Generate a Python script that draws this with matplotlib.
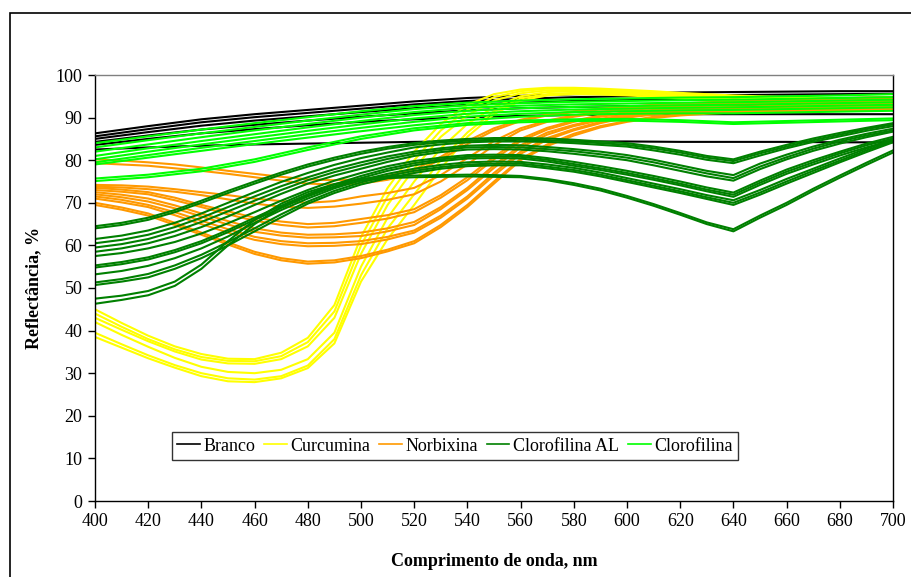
import numpy as np
import matplotlib.pyplot as plt
from matplotlib.patches import Rectangle

plt.rcParams['font.family'] = ['Liberation Serif', 'DejaVu Serif']

# comprimento de onda (nm)
wl20 = [400, 420, 440, 460, 480, 500, 520, 540, 560, 580, 600, 620, 640, 660, 680, 700]
wl10 = list(range(400, 701, 10))

# Branco (passo 20 nm)
branco = [
    [86.3, 88.0, 89.6, 90.8, 91.8, 92.8, 93.8, 94.6, 95.1, 95.5, 95.7, 95.9, 96.0, 96.1, 96.2, 96.2],
    [85.6, 87.3, 88.9, 90.1, 91.1, 92.1, 93.1, 93.9, 94.4, 94.8, 95.0, 95.2, 95.3, 95.4, 95.5, 95.6],
    [85.0, 86.6, 88.1, 89.3, 90.3, 91.3, 92.2, 93.0, 93.5, 93.9, 94.1, 94.3, 94.4, 94.5, 94.6, 94.7],
    [84.3, 85.8, 87.2, 88.3, 89.3, 90.2, 91.0, 91.7, 92.2, 92.5, 92.7, 92.9, 93.0, 93.1, 93.2, 93.3],
    [83.6, 85.0, 86.3, 87.3, 88.2, 89.0, 89.6, 90.1, 90.4, 90.6, 90.7, 90.8, 90.8, 90.8, 90.8, 90.8],
    [82.5, 83.0, 83.4, 83.7, 83.9, 84.1, 84.3, 84.5, 84.5, 84.4, 84.4, 84.3, 84.3, 84.3, 84.2, 84.2],
]

# Curcumina (passo 10 nm)
curcumina = [
    [45.0, 41.8, 38.8, 36.3, 34.5, 33.4, 33.3, 34.8, 38.3, 46.0, 62.0, 73.5, 82.0, 88.5, 93.0, 95.5,
     96.6, 97.0, 97.0, 96.8, 96.5, 96.2, 95.8, 95.5, 95.2, 95.0, 94.8, 94.6, 94.5, 94.3, 94.2],
    [44.0, 40.9, 38.0, 35.6, 33.8, 32.9, 32.8, 34.0, 37.3, 44.5, 60.0, 71.5, 80.0, 87.0, 91.8, 94.8,
     96.2, 96.8, 96.8, 96.6, 96.3, 96.0, 95.6, 95.3, 95.0, 94.8, 94.5, 94.4, 94.2, 94.1, 94.0],
    [43.0, 40.2, 37.5, 35.1, 33.2, 32.3, 32.2, 33.3, 36.3, 43.0, 58.0, 69.5, 78.0, 85.5, 90.5, 94.0,
     95.7, 96.4, 96.5, 96.3, 96.0, 95.7, 95.3, 95.0, 94.7, 94.4, 94.2, 94.0, 93.8, 93.6, 93.5],
    [42.0, 39.0, 36.2, 33.6, 31.5, 30.3, 30.0, 30.8, 33.3, 39.5, 55.0, 66.5, 75.0, 82.8, 88.5, 92.5,
     95.0, 96.0, 96.2, 96.0, 95.8, 95.4, 95.0, 94.6, 94.3, 94.0, 93.8, 93.6, 93.4, 93.2, 93.0],
    [39.5, 36.8, 34.2, 31.9, 30.0, 28.8, 28.5, 29.3, 31.8, 38.0, 53.0, 64.0, 72.0, 80.0, 86.5, 91.5,
     94.5, 95.5, 95.8, 95.7, 95.5, 95.2, 94.8, 94.4, 94.0, 93.8, 93.5, 93.2, 93.0, 92.7, 92.5],
    [38.5, 36.0, 33.5, 31.3, 29.3, 28.1, 27.9, 28.8, 31.2, 37.0, 51.5, 61.5, 69.5, 78.0, 85.5, 90.8,
     94.0, 95.2, 95.5, 95.4, 95.2, 94.9, 94.5, 94.1, 93.8, 93.5, 93.2, 93.0, 92.8, 92.5, 92.3],
]

# Norbixina (passo 10 nm)
norbixina = [
    [80.2, 79.9, 79.5, 79.0, 78.3, 77.5, 76.8, 76.1, 75.5, 75.3, 75.5, 76.3, 77.8, 80.8, 84.5, 87.5,
     89.5, 90.7, 91.5, 92.1, 92.5, 93.0, 93.3, 93.6, 93.8, 94.0, 94.2, 94.4, 94.5, 94.7, 94.8],
    [79.3, 79.0, 78.7, 78.1, 77.5, 76.8, 76.0, 75.2, 74.5, 74.3, 74.5, 75.4, 77.0, 80.2, 83.8, 87.0,
     89.2, 90.5, 91.3, 91.9, 92.3, 92.7, 93.0, 93.2, 93.4, 93.6, 93.8, 94.0, 94.1, 94.3, 94.4],
    [74.2, 74.1, 73.8, 73.2, 72.5, 71.8, 71.0, 70.4, 70.0, 70.4, 71.5, 72.3, 73.5, 76.5, 80.5, 84.5,
     87.5, 89.3, 90.5, 91.4, 92.0, 92.5, 92.8, 93.1, 93.3, 93.5, 93.6, 93.7, 93.8, 93.9, 94.0],
    [73.8, 73.6, 73.2, 72.6, 71.8, 70.8, 69.8, 69.1, 68.8, 69.1, 69.8, 70.7, 72.0, 75.0, 79.0, 83.5,
     87.0, 89.0, 90.2, 91.1, 91.8, 92.2, 92.5, 92.8, 93.0, 93.2, 93.3, 93.4, 93.5, 93.6, 93.7],
    [73.5, 73.1, 72.5, 71.2, 69.5, 68.0, 66.5, 65.6, 65.0, 65.3, 66.2, 67.1, 68.5, 71.8, 76.0, 80.8,
     85.0, 87.6, 89.3, 90.5, 91.3, 91.8, 92.2, 92.4, 92.5, 92.7, 92.8, 92.9, 93.0, 93.1, 93.2],
    [73.0, 72.6, 72.0, 70.6, 69.0, 67.3, 65.8, 64.8, 64.2, 64.5, 65.3, 66.3, 67.8, 71.2, 75.3, 80.2,
     84.5, 87.2, 89.0, 90.2, 91.0, 91.6, 92.0, 92.2, 92.3, 92.5, 92.6, 92.7, 92.8, 92.9, 93.0],
    [72.5, 71.9, 71.0, 69.4, 67.5, 65.7, 64.0, 63.0, 62.5, 62.6, 63.0, 64.0, 65.5, 69.0, 73.5, 78.8,
     83.5, 86.5, 88.3, 89.7, 90.7, 91.3, 91.8, 92.0, 92.2, 92.4, 92.5, 92.6, 92.7, 92.8, 92.9],
    [72.0, 71.3, 70.3, 68.7, 66.8, 64.9, 63.2, 62.3, 61.8, 61.9, 62.2, 63.3, 64.8, 68.5, 73.0, 78.2,
     83.0, 86.0, 88.0, 89.4, 90.5, 91.1, 91.6, 91.8, 92.0, 92.2, 92.3, 92.4, 92.5, 92.6, 92.7],
    [71.5, 70.7, 69.5, 67.8, 65.8, 63.8, 62.0, 61.0, 60.5, 60.6, 61.0, 62.0, 63.5, 67.0, 71.5, 77.0,
     82.0, 85.2, 87.3, 89.0, 90.2, 90.9, 91.4, 91.6, 91.8, 91.9, 92.0, 92.1, 92.3, 92.4, 92.5],
    [71.0, 70.1, 69.0, 67.1, 65.0, 63.0, 61.3, 60.3, 59.8, 59.9, 60.3, 61.4, 63.0, 66.5, 71.0, 76.4,
     81.5, 84.8, 87.0, 88.7, 90.0, 90.7, 91.2, 91.4, 91.6, 91.7, 91.8, 91.9, 92.1, 92.2, 92.3],
    [70.0, 68.9, 67.5, 65.3, 63.0, 60.7, 58.5, 57.0, 56.2, 56.5, 57.5, 59.0, 61.0, 64.8, 69.5, 75.0,
     80.3, 83.7, 86.2, 88.0, 89.2, 90.2, 90.8, 91.1, 91.4, 91.5, 91.6, 91.7, 91.8, 91.9, 92.0],
    [69.5, 68.4, 67.0, 64.8, 62.5, 60.2, 58.0, 56.5, 55.7, 56.0, 57.0, 58.6, 60.5, 64.3, 69.0, 74.5,
     80.0, 83.3, 85.8, 87.7, 89.0, 89.9, 90.5, 90.9, 91.2, 91.3, 91.4, 91.5, 91.6, 91.7, 91.8],
]

# Clorofilina AL (passo 10 nm)
clorofilina_al = [
    [64.5, 65.3, 66.5, 68.3, 70.5, 72.8, 75.0, 77.1, 79.0, 80.6, 82.0, 83.1, 84.0, 84.6, 85.0, 85.2,
     85.2, 85.1, 84.8, 84.4, 84.0, 83.2, 82.2, 81.0, 80.2, 82.0, 83.6, 85.1, 86.4, 87.6, 88.7],
    [64.0, 64.8, 66.0, 67.8, 70.0, 72.3, 74.5, 76.6, 78.5, 80.1, 81.5, 82.7, 83.6, 84.2, 84.6, 84.8,
     84.8, 84.7, 84.4, 84.0, 83.6, 82.8, 81.8, 80.6, 79.8, 81.6, 83.2, 84.7, 86.0, 87.3, 88.4],
    [61.5, 62.3, 63.5, 65.3, 67.5, 70.0, 72.5, 74.9, 77.0, 78.9, 80.5, 81.8, 83.0, 83.7, 84.2, 84.4,
     84.4, 84.3, 84.0, 83.6, 83.2, 82.3, 81.3, 80.1, 79.3, 81.1, 82.8, 84.3, 85.6, 86.9, 88.0],
    [60.5, 61.3, 62.5, 64.3, 66.5, 69.0, 71.5, 73.9, 76.0, 77.9, 79.5, 80.9, 82.0, 82.8, 83.4, 83.6,
     83.5, 83.1, 82.6, 82.0, 81.2, 80.1, 78.8, 77.5, 76.5, 79.2, 81.3, 83.2, 84.8, 86.2, 87.4],
    [59.5, 60.3, 61.5, 63.3, 65.5, 68.0, 70.5, 73.0, 75.3, 77.2, 78.8, 80.3, 81.5, 82.4, 83.0, 83.1,
     83.0, 82.6, 82.1, 81.4, 80.6, 79.5, 78.2, 76.9, 75.8, 78.5, 80.7, 82.7, 84.4, 85.8, 87.0],
    [58.5, 59.3, 60.5, 62.2, 64.3, 66.8, 69.5, 72.1, 74.5, 76.4, 78.0, 79.6, 81.0, 81.9, 82.5, 82.6,
     82.5, 82.1, 81.5, 80.8, 80.0, 78.8, 77.5, 76.2, 75.2, 77.9, 80.2, 82.2, 83.9, 85.4, 86.7],
    [57.5, 58.2, 59.3, 60.8, 62.8, 65.2, 67.8, 70.5, 73.0, 75.2, 77.0, 78.6, 79.8, 80.6, 81.2, 81.3,
     81.2, 80.5, 79.6, 78.6, 77.5, 76.3, 75.0, 73.6, 72.4, 75.2, 77.8, 80.0, 82.0, 83.9, 85.5],
    [55.3, 56.1, 57.2, 58.9, 61.0, 63.6, 66.5, 69.3, 72.0, 74.3, 76.3, 78.0, 79.3, 80.2, 80.8, 80.9,
     80.8, 80.1, 79.1, 78.1, 77.0, 75.8, 74.5, 73.1, 71.9, 74.7, 77.3, 79.5, 81.6, 83.5, 85.1],
    [54.8, 55.6, 56.7, 58.4, 60.5, 63.1, 66.0, 68.8, 71.5, 73.8, 75.8, 77.5, 78.8, 79.8, 80.4, 80.5,
     80.4, 79.7, 78.7, 77.7, 76.6, 75.4, 74.1, 72.7, 71.4, 74.2, 76.8, 79.0, 81.1, 83.0, 84.7],
    [53.2, 54.0, 55.2, 57.0, 59.3, 62.1, 65.3, 68.3, 71.0, 73.4, 75.3, 76.8, 78.0, 78.9, 79.5, 79.7,
     79.6, 79.0, 78.2, 77.1, 75.8, 74.5, 73.2, 71.8, 70.6, 73.0, 75.6, 78.0, 80.4, 82.7, 84.8],
    [51.3, 52.1, 53.3, 55.3, 57.8, 60.8, 64.0, 67.3, 70.3, 72.8, 74.8, 76.3, 77.5, 78.4, 79.0, 79.2,
     79.2, 78.5, 77.7, 76.6, 75.3, 74.0, 72.7, 71.3, 70.0, 72.4, 75.0, 77.5, 79.9, 82.3, 84.5],
    [50.7, 51.5, 52.5, 54.5, 57.0, 60.0, 63.3, 66.6, 69.8, 72.3, 74.3, 75.8, 77.0, 78.0, 78.6, 78.8,
     78.8, 78.1, 77.3, 76.2, 74.9, 73.6, 72.3, 70.9, 69.5, 71.9, 74.5, 77.0, 79.5, 81.9, 84.2],
    [47.5, 48.2, 49.3, 51.5, 55.5, 61.0, 66.0, 69.8, 72.5, 74.4, 75.6, 76.2, 76.4, 76.5, 76.6, 76.5,
     76.3, 75.6, 74.6, 73.3, 71.6, 69.7, 67.6, 65.4, 63.8, 67.0, 70.0, 73.3, 76.4, 79.4, 82.3],
    [46.3, 47.2, 48.3, 50.5, 54.5, 60.0, 65.0, 69.0, 71.8, 73.8, 75.2, 75.8, 76.0, 76.1, 76.2, 76.1,
     76.0, 75.3, 74.2, 72.9, 71.2, 69.3, 67.2, 65.0, 63.3, 66.5, 69.5, 72.8, 75.9, 78.9, 81.8],
]

# Clorofilina (passo 20 nm)
clorofilina = [
    [84.0, 85.6, 87.2, 88.7, 90.1, 91.5, 92.7, 93.5, 94.0, 94.3, 94.5, 94.7, 94.8, 95.0, 95.2, 95.5],
    [83.0, 84.7, 86.3, 87.8, 89.3, 90.7, 92.0, 92.9, 93.4, 93.7, 93.9, 94.1, 94.2, 94.4, 94.6, 94.8],
    [82.0, 83.7, 85.4, 87.0, 88.5, 90.0, 91.3, 92.3, 92.8, 93.1, 93.3, 93.5, 93.6, 93.8, 94.0, 94.2],
    [81.0, 82.8, 84.5, 86.1, 87.7, 89.2, 90.6, 91.6, 92.2, 92.5, 92.7, 92.9, 93.0, 93.2, 93.4, 93.6],
    [80.2, 82.0, 83.7, 85.3, 86.9, 88.4, 89.8, 90.9, 91.5, 91.9, 92.1, 92.3, 92.4, 92.6, 92.8, 93.0],
    [79.5, 81.2, 82.9, 84.5, 86.1, 87.6, 89.0, 90.2, 90.9, 91.3, 91.5, 91.7, 91.8, 92.0, 92.2, 92.4],
    [79.0, 80.6, 82.2, 83.8, 85.3, 86.8, 88.2, 89.4, 90.2, 90.7, 90.9, 91.0, 91.0, 91.2, 91.4, 91.6],
    [75.7, 76.6, 78.0, 80.2, 83.0, 85.6, 87.5, 88.7, 89.3, 89.6, 89.7, 89.4, 88.9, 89.2, 89.5, 89.8],
    [75.1, 76.0, 77.4, 79.6, 82.4, 85.0, 87.0, 88.3, 88.9, 89.2, 89.3, 89.0, 88.5, 88.8, 89.1, 89.4],
]

grupos = [
    ("Branco", wl20, branco, "black"),
    ("Curcumina", wl10, curcumina, "#FFFF00"),
    ("Norbixina", wl10, norbixina, "#FF9900"),
    ("Clorofilina AL", wl10, clorofilina_al, "#008000"),
    ("Clorofilina", wl20, clorofilina, "#00FF00"),
]

fig = plt.figure(figsize=(9.12, 5.77), dpi=100)
ax = fig.add_axes([95 / 912, 76 / 577, 798 / 912, 426 / 577])

for nome, x, curvas, cor in grupos:
    for i, r in enumerate(curvas):
        ax.plot(x, r, color=cor, lw=1.5, label=nome if i == 0 else None)

ax.set_xlim(400, 700)
ax.set_ylim(0, 100)
ax.set_xticks(np.arange(400, 701, 20))
ax.set_yticks(np.arange(0, 101, 10))
ax.tick_params(direction='out', length=5, width=1, labelsize=13, pad=4)
ax.spines['top'].set_color('#808080')
ax.spines['right'].set_color('black')
for s in ax.spines.values():
    s.set_linewidth(1)

ax.set_xlabel("Comprimento de onda, nm", fontsize=13, fontweight='bold', labelpad=16)
ax.set_ylabel("Reflectância, %", fontsize=13, fontweight='bold', labelpad=10)

leg = ax.legend(loc='lower left', bbox_to_anchor=(0.096, 0.096), ncol=5, fontsize=13,
                frameon=True, fancybox=False, edgecolor='black', handlelength=1.25,
                handletextpad=0.2, columnspacing=0.5, borderpad=0.3, borderaxespad=0)
leg.get_frame().set_linewidth(1)
for h in leg.get_lines():
    h.set_linewidth(1.2)

# moldura externa do gráfico
fig.patches.append(Rectangle((10 / 912, -0.05), 1.1, 1 - 13 / 577 + 0.05, transform=fig.transFigure,
                             fill=False, edgecolor='black', lw=1.2))

fig.savefig("out.png", dpi=100)
